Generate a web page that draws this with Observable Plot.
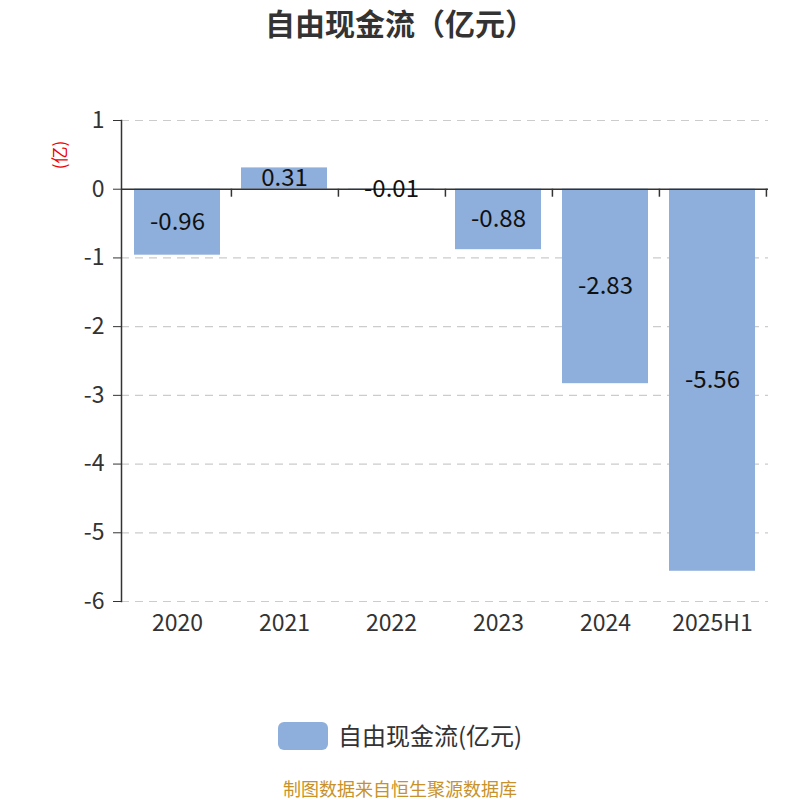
<!DOCTYPE html>
<html><head><meta charset="utf-8">
<script src="https://cdn.jsdelivr.net/npm/d3@7"></script>
<script src="https://cdn.jsdelivr.net/npm/@observablehq/plot@0.6"></script>
<style>
body{margin:0;background:#fff;font-family:"Noto Sans CJK SC","Noto Sans",sans-serif;}
#wrap{position:relative;width:800px;height:800px;overflow:hidden;}
#wrap svg{position:absolute;left:0;top:0;}
.t{position:absolute;white-space:nowrap;}
</style></head>
<body><div id="wrap">
<div class="t" style="left:0;width:800px;top:2px;text-align:center;font-size:30px;line-height:40px;font-weight:bold;color:#333;">自由现金流（亿元）</div>
<div class="t" style="left:58px;top:155px;transform:translate(-50%,-50%) rotate(-90deg);font-size:17px;color:#e00;">(亿)</div>
<div class="t" style="left:278px;top:722px;width:50px;height:28px;border-radius:6px;background:#8eaedb;"></div>
<div class="t" style="left:338px;top:719px;font-size:24px;color:#333;line-height:32px;">自由现金流(亿元)</div>
<div class="t" style="left:0;width:800px;top:778px;text-align:center;font-size:18px;line-height:20px;color:#c8922a;">制图数据来自恒生聚源数据库</div>
</div>
<script>
const categories = ["2020","2021","2022","2023","2024","2025H1"];
const values = [-0.96, 0.31, -0.01, -0.88, -2.83, -5.56];
const yTicks = [-6,-5,-4,-3,-2,-1,0,1];
const data = categories.map((c,i)=>({cat:c, v:values[i]}));

const W = 800, H = 800, mL = 121, mR = 32, mT = 120, mB = 199;
const step = (W - mL - mR) / categories.length;

const chart = Plot.plot({
  width: W, height: H,
  marginLeft: mL, marginRight: mR, marginTop: mT, marginBottom: mB,
  style: {fontFamily: '"Noto Sans CJK SC","Noto Sans",sans-serif', background: "transparent"},
  x: {domain: categories, paddingInner: 0.2, paddingOuter: 0.1, align: 0.5},
  y: {domain: [-6, 1]},
  marks: [
    Plot.ruleY(yTicks.filter(d=>d!==0), {stroke:"#ccc", strokeDasharray:"8,6", strokeWidth:1.2, strokeOpacity:1}),
    Plot.barY(data, {x:"cat", y:"v", fill:"#8eaedb"}),
    Plot.ruleY([0], {stroke:"#333", strokeWidth:1.5}),
    Plot.ruleX(categories, {x: d=>d, y1: 0, y2: 0, dx: step/2, insetBottom: -8, stroke:"#333", strokeWidth:1.5}),
    Plot.frame({anchor:"left", stroke:"#333", strokeWidth:1.5}),
    Plot.axisY({ticks: yTicks, tickFormat: d=>String(d), tickSize: 8, tickPadding: 9, fontSize: 23, color:"#333", label: null, stroke:"#333"}),
    Plot.axisX({tickSize: 0, tickPadding: 13, fontSize: 23, color:"#333", label: null}),
    Plot.text(data, {x:"cat", y: d=>d.v/2, text: d=>d.v.toFixed(2), fontSize: 24, fill:"#111"})
  ]
});
document.getElementById("wrap").prepend(chart);
</script>
</body></html>
